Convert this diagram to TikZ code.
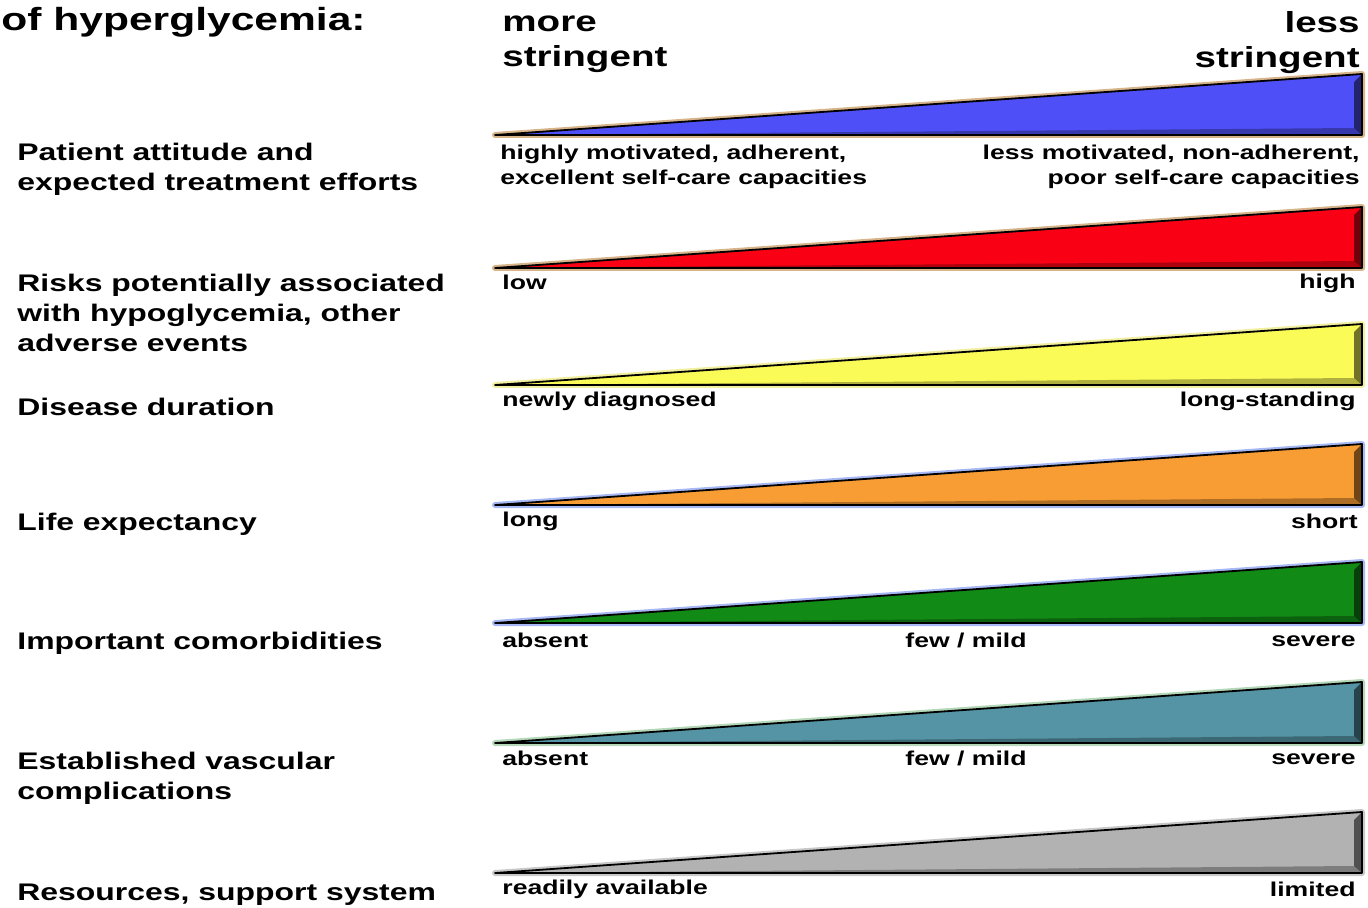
\documentclass[tikz,border=0pt]{standalone}
\usepackage{fontspec}
\setmainfont{Liberation Sans}[FakeStretch=1.33]
\usepackage{tikz}
\usetikzlibrary{positioning,calc}

\definecolor{wblue}{HTML}{4F4FF8}
\definecolor{wred}{HTML}{FA0014}
\definecolor{wyellow}{HTML}{FBFB58}
\definecolor{worange}{HTML}{F89C34}
\definecolor{wgreen}{HTML}{128A16}
\definecolor{wteal}{HTML}{5494A4}
\definecolor{wgray}{HTML}{B2B2B2}
\definecolor{gtan}{HTML}{D8B48A}
\definecolor{gyellow}{HTML}{F2F0A0}
\definecolor{gblue}{HTML}{A8B8F4}
\definecolor{gmint}{HTML}{B4D8B8}
\definecolor{ggray}{HTML}{C8C8C8}

\begin{document}
\begin{tikzpicture}[x=0.5pt, y=-0.5pt,
    rowlabel/.style={anchor=west, align=left, inner sep=0pt, font=\bfseries\fontsize{12}{15}\selectfont},
    endlabel/.style={inner sep=0pt, font=\bfseries\fontsize{10}{12.5}\selectfont},
    headlabel/.style={inner sep=0pt, font=\bfseries\fontsize{14.5}{17.5}\selectfont}]
  \useasboundingbox (0,0) rectangle (1368,908);

  % header
  \node[anchor=west, inner sep=0pt, font=\bfseries\fontsize{16}{19}\selectfont] (title) at (1,22) {of hyperglycemia:};
  \node[headlabel, anchor=west, align=left] (more) at (502,44) {more\\stringent};
  \node[headlabel, anchor=east, align=right] (less) at (1360,43) {less\\stringent};

  % wedges
  \foreach \base/\col/\glow [count=\i] in {135/wblue/gtan, 268/wred/gtan, 385/wyellow/gyellow, 505/worange/gblue, 623/wgreen/gblue, 743/wteal/gmint, 873/wgray/ggray} {
    \coordinate (tip\i) at (495,\base);
    \coordinate (foot\i) at (1362,\base);
    \coordinate (top\i) at (1362,\base-61);
    \draw[\glow, line width=3pt, line join=round] (tip\i) -- (foot\i) -- (top\i) -- cycle;
    \fill[\col] (tip\i) -- (foot\i) -- (top\i) -- cycle;
    \fill[\col!70!black] (tip\i) -- (foot\i) -- ($(foot\i)+(-8,-7)$) -- cycle;
    \fill[\col!45!black] ($(top\i)+(-8,8)$) -- (top\i) -- (foot\i) -- ($(foot\i)+(-8,-7)$) -- cycle;
    \draw[black, line width=0.9pt, line join=round] (tip\i) -- (foot\i) -- (top\i) -- cycle;
  }

  % row titles
  \node[rowlabel] (attitude) at (17,169) {Patient attitude and\\expected treatment efforts};
  \node[rowlabel] (risks) at (17,313) {Risks potentially associated\\with hypoglycemia, other\\adverse events};
  \node[rowlabel] (duration) at (17,407) {Disease duration};
  \node[rowlabel] (life) at (17,524) {Life expectancy};
  \node[rowlabel] (comorb) at (17,643) {Important comorbidities};
  \node[rowlabel] (vascular) at (17,778) {Established vascular\\complications};
  \node[rowlabel] (resources) at (17,895) {Resources, support system};

  % scale ends
  \node[endlabel, anchor=west, align=left] (att-l) at (500,167) {highly motivated, adherent,\\excellent self-care capacities};
  \node[endlabel, anchor=east, align=right] (att-r) at (1360,167) {less motivated, non-adherent,\\poor self-care capacities};
  \node[endlabel, anchor=west] (risk-l) at (502,282) {low};
  \node[endlabel, anchor=east] (risk-r) at (1356,283) {high};
  \node[endlabel, anchor=west] (dur-l) at (502,401) {newly diagnosed};
  \node[endlabel, anchor=east] (dur-r) at (1356,401) {long-standing};
  \node[endlabel, anchor=west] (life-l) at (502,521) {long};
  \node[endlabel, anchor=east] (life-r) at (1358,521) {short};
  \node[endlabel, anchor=west] (com-l) at (502,640) {absent};
  \node[endlabel] (com-m) at (966,640) {few / mild};
  \node[endlabel, anchor=east] (com-r) at (1356,641) {severe};
  \node[endlabel, anchor=west] (vas-l) at (502,758) {absent};
  \node[endlabel] (vas-m) at (966,758) {few / mild};
  \node[endlabel, anchor=east] (vas-r) at (1356,759) {severe};
  \node[endlabel, anchor=west] (res-l) at (502,889) {readily available};
  \node[endlabel, anchor=east] (res-r) at (1356,889) {limited};
\end{tikzpicture}
\end{document}
